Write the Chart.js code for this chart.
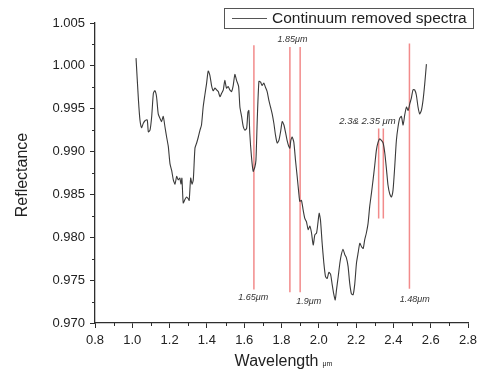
<!DOCTYPE html>
<html>
<head>
<meta charset="utf-8">
<script src="https://cdn.jsdelivr.net/npm/chart.js@4.4.0/dist/chart.umd.min.js"></script>
<style>
html,body{margin:0;padding:0;background:#fff;}
canvas{display:block;}
</style>
</head>
<body>
<canvas id="c" width="479" height="372"></canvas>
<script>
// ---- data ----
const wavelength = [1.020,1.033,1.041,1.050,1.059,1.068,1.080,1.086,1.095,1.104,1.113,1.121,1.130,1.139,1.148,1.157,1.166,1.175,1.184,1.193,
1.202,1.211,1.220,1.229,1.238,1.246,1.255,1.261,1.266,1.273,1.282,1.291,1.300,1.305,1.313,1.320,1.327,1.336,1.345,1.354,
1.363,1.371,1.380,1.389,1.398,1.407,1.416,1.425,1.434,1.443,1.452,1.461,1.470,1.479,1.488,1.496,1.505,1.514,1.523,1.532,
1.541,1.550,1.559,1.570,1.577,1.586,1.595,1.604,1.613,1.620,1.625,1.630,1.639,1.648,1.657,1.663,1.670,1.679,1.688,1.696,
1.705,1.714,1.723,1.732,1.741,1.750,1.759,1.768,1.777,1.786,1.795,1.804,1.813,1.821,1.830,1.839,1.845,1.850,1.857,1.866,
1.875,1.884,1.893,1.898,1.907,1.916,1.925,1.934,1.943,1.952,1.961,1.970,1.979,1.988,1.996,2.002,2.009,2.018,2.027,2.036,
2.045,2.054,2.063,2.071,2.080,2.088,2.095,2.104,2.113,2.121,2.130,2.139,2.148,2.157,2.166,2.175,2.184,2.193,2.202,2.211,
2.220,2.229,2.238,2.246,2.255,2.264,2.273,2.282,2.291,2.300,2.309,2.318,2.327,2.336,2.345,2.354,2.363,2.371,2.380,2.389,
2.398,2.407,2.416,2.425,2.434,2.443,2.452,2.461,2.470,2.479,2.488,2.496,2.505,2.514,2.523,2.532,2.541,2.550,2.559,2.568,2.577];
const reflectance = [1.0009,0.9960,0.9937,0.9928,0.9933,0.9936,0.9937,0.9923,0.9925,0.9941,0.9968,0.9971,0.9964,0.9944,0.9939,0.9935,0.9941,0.9929,0.9917,0.9906,
0.9886,0.9878,0.9867,0.9862,0.9871,0.9867,0.9869,0.9862,0.9869,0.9840,0.9844,0.9847,0.9845,0.9843,0.9869,0.9862,0.9867,0.9904,0.9910,0.9917,
0.9925,0.9931,0.9952,0.9966,0.9979,0.9994,0.9989,0.9977,0.9971,0.9974,0.9972,0.9970,0.9964,0.9968,0.9972,0.9983,0.9974,0.9976,0.9972,0.9970,
0.9977,0.9990,0.9983,0.9976,0.9952,0.9941,0.9929,0.9925,0.9927,0.9946,0.9948,0.9921,0.9894,0.9877,0.9882,0.9890,0.9937,0.9982,0.9981,0.9977,
0.9980,0.9975,0.9970,0.9960,0.9952,0.9944,0.9933,0.9919,0.9910,0.9913,0.9923,0.9935,0.9931,0.9923,0.9913,0.9906,0.9904,0.9913,0.9917,0.9911,
0.9890,0.9871,0.9851,0.9842,0.9843,0.9832,0.9822,0.9818,0.9809,0.9813,0.9805,0.9791,0.9803,0.9805,0.9818,0.9828,0.9820,0.9793,0.9770,0.9754,
0.9752,0.9759,0.9757,0.9746,0.9734,0.9727,0.9739,0.9754,0.9770,0.9780,0.9786,0.9780,0.9776,0.9766,0.9746,0.9734,0.9733,0.9746,0.9770,0.9782,
0.9793,0.9789,0.9787,0.9797,0.9805,0.9816,0.9836,0.9851,0.9867,0.9884,0.9902,0.9911,0.9915,0.9913,0.9910,0.9898,0.9879,0.9861,0.9851,0.9847,
0.9855,0.9882,0.9913,0.9929,0.9939,0.9941,0.9931,0.9943,0.9952,0.9948,0.9956,0.9962,0.9972,0.9972,0.9966,0.9952,0.9944,0.9948,0.9960,0.9979,1.0002];

// marker lines (wavelength, top, bottom)
const markerX      = [1.652, 1.845, 1.900, 2.321, 2.346, 2.486];
const markerTop    = [1.0024, 1.0022, 1.0022, 0.9927, 0.9927, 1.0026];
const markerBottom = [0.9739, 0.9736, 0.9736, 0.9822, 0.9822, 0.9740];

// annotation labels
const labelText = ['1.85\u03bcm', '1.65\u03bcm', '1.9\u03bcm', '1.48\u03bcm', '2.3& 2.35 \u03bcm'];
const labelX    = [1.859, 1.648, 1.946, 2.514, 2.261];
const labelY    = [1.0031, 0.9730, 0.97252, 0.97275, 0.99348];

const xTicks = [0.8,1.0,1.2,1.4,1.6,1.8,2.0,2.2,2.4,2.6,2.8];
const yTicks = [0.970,0.975,0.980,0.985,0.990,0.995,1.000,1.005];
const seriesName = 'Continuum removed spectra';

const FONT = "'Liberation Sans', Arial, sans-serif";
const AX = '#2e2e2e';

const datasets = [{
  label: seriesName,
  data: wavelength.map((w,i)=>({x:w, y:reflectance[i]})),
  borderColor: '#3a3a3a',
  borderWidth: 1.1,
  pointRadius: 0,
  tension: 0.2,
  fill: false
}];
markerX.forEach((mx,i)=>{
  datasets.push({
    label: 'marker'+i,
    data: [{x:mx, y:markerTop[i]},{x:mx, y:markerBottom[i]}],
    borderColor: 'rgba(236,90,90,0.7)',
    borderWidth: 1.5,
    pointRadius: 0,
    fill: false
  });
});

const decor = {
  id: 'decor',
  afterDraw(chart){
    const ctx = chart.ctx, xs = chart.scales.x, ys = chart.scales.y;
    const ca = chart.chartArea;
    ctx.save();
    // minor ticks
    ctx.strokeStyle = AX; ctx.lineWidth = 1;
    ctx.beginPath();
    for (let v = 0.9725; v < 1.005; v += 0.005){
      const py = Math.round(ys.getPixelForValue(v)) + 0.5;
      ctx.moveTo(ca.left, py); ctx.lineTo(ca.left-3, py);
    }
    for (let v = 0.9; v < 2.8; v += 0.2){
      const px = Math.round(xs.getPixelForValue(v)) + 0.5;
      ctx.moveTo(px, ca.bottom); ctx.lineTo(px, ca.bottom+3);
    }
    ctx.stroke();
    // annotation labels
    ctx.fillStyle = '#333';
    ctx.textAlign = 'center'; ctx.textBaseline = 'middle';
    labelText.forEach((t,i)=>{
      ctx.font = (i===4 ? 'italic 9.5px ' : 'italic 9px ') + FONT;
      ctx.fillText(t, xs.getPixelForValue(labelX[i]), ys.getPixelForValue(labelY[i]));
    });
    // axis titles
    ctx.fillStyle = '#222';
    ctx.font = '16px ' + FONT;
    ctx.textAlign = 'left';
    const wt = 'Wavelength';
    const ww = ctx.measureText(wt).width;
    ctx.font = '7px ' + FONT;
    const uw = ctx.measureText('\u03bcm').width;
    const total = ww + 4 + uw;
    const cx = (ca.left + ca.right)/2 + 2;
    const sx = cx - total/2;
    ctx.font = '16px ' + FONT;
    ctx.fillText(wt, sx, 362);
    ctx.font = '7px ' + FONT;
    ctx.fillText('\u03bcm', sx + ww + 4, 364);
    ctx.save();
    ctx.translate(23, (ca.top+ca.bottom)/2 + 2);
    ctx.rotate(-Math.PI/2);
    ctx.textAlign = 'center';
    ctx.font = '16px ' + FONT;
    ctx.fillText('Reflectance', 0, 0);
    ctx.restore();
    // legend
    ctx.strokeStyle = '#555'; ctx.lineWidth = 1;
    ctx.strokeRect(224.5, 8.5, 249, 20);
    ctx.strokeStyle = '#555';
    ctx.beginPath(); ctx.moveTo(232, 18.5); ctx.lineTo(267, 18.5); ctx.stroke();
    ctx.fillStyle = '#222';
    ctx.font = '15.5px ' + FONT;
    ctx.textAlign = 'left';
    ctx.fillText(seriesName, 272, 18.5);
    ctx.restore();
  }
};

new Chart(document.getElementById('c'), {
  type: 'line',
  data: { datasets },
  options: {
    responsive: false,
    animation: false,
    layout: { padding: { top: 23, right: 11, left: 0, bottom: 0 } },
    plugins: { legend: { display: false }, tooltip: { enabled: false } },
    scales: {
      x: {
        type: 'linear', min: 0.8, max: 2.8,
        afterBuildTicks: s => { s.ticks = xTicks.map(v=>({value:v})); },
        afterFit: s => { s.height = 49; s.paddingRight = 0; s.paddingLeft = 0; },
        grid: { display: true, drawOnChartArea: false, drawTicks: true, tickLength: 5, color: AX },
        border: { display: true, color: AX, width: 1.3 },
        ticks: { color: '#222', font: { family: FONT, size: 13 }, padding: 5, maxRotation: 0,
                 callback: v => Number(v).toFixed(1) }
      },
      y: {
        type: 'linear', min: 0.970, max: 1.005,
        afterBuildTicks: s => { s.ticks = yTicks.map(v=>({value:v})); },
        afterFit: s => { s.width = 95; s.paddingTop = 0; s.paddingBottom = 0; },
        grid: { display: true, drawOnChartArea: false, drawTicks: true, tickLength: 5, color: AX },
        border: { display: true, color: AX, width: 1.3 },
        ticks: { color: '#222', font: { family: FONT, size: 13 }, padding: 5,
                 callback: v => Number(v).toFixed(3) }
      }
    }
  },
  plugins: [decor]
});
</script>
</body>
</html>
